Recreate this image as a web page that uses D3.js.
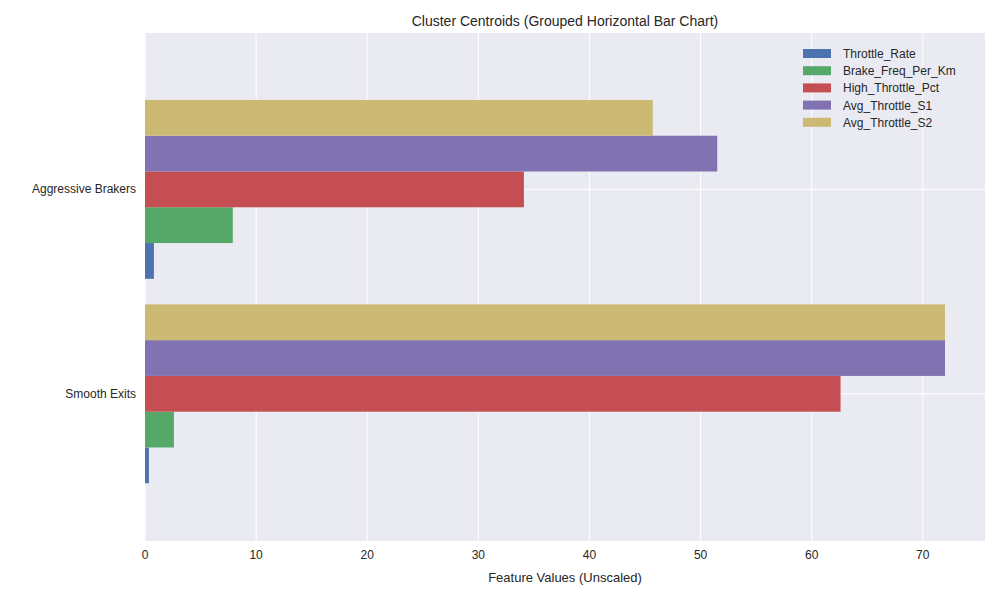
<!DOCTYPE html>
<html><head><meta charset="utf-8">
<script src="https://cdn.jsdelivr.net/npm/d3@7"></script>
<style>body{margin:0;background:#fff;font-family:"Liberation Sans",Arial,sans-serif}</style>
</head><body>
<svg id="chart" width="1000" height="600"></svg>
<script>
// data
var clusters = ['Smooth Exits', 'Aggressive Brakers'];
var features = ['Throttle_Rate', 'Brake_Freq_Per_Km', 'High_Throttle_Pct', 'Avg_Throttle_S1', 'Avg_Throttle_S2'];
var colors = ['#4C72B0', '#55A868', '#C44E52', '#8172B2', '#CCB974'];
var smoothValues = [0.35, 2.6, 62.6, 72.0, 72.0];
var aggressiveValues = [0.8, 7.9, 34.1, 51.5, 45.7];
var xTicks = [0, 10, 20, 30, 40, 50, 60, 70];

var values = [smoothValues, aggressiveValues];

var svg = d3.select('#chart');
var mLeft = 145, mRight = 985, mTop = 33, mBottom = 541;

var x = d3.scaleLinear().domain([0, 75.6]).range([mLeft, mRight]);
var y = d3.scaleLinear().domain([-0.72, 1.765]).range([mBottom, mTop]);
var barW = 0.175; // in category units

svg.append('rect').attr('x', mLeft).attr('y', mTop)
    .attr('width', mRight - mLeft).attr('height', mBottom - mTop).attr('fill', '#EAEAF2');

// grid
svg.selectAll('.vg').data(xTicks).enter().append('line')
    .attr('x1', d => x(d)).attr('x2', d => x(d)).attr('y1', mTop).attr('y2', mBottom)
    .attr('stroke', '#fff').attr('stroke-width', 1);
svg.selectAll('.hg').data([0, 1]).enter().append('line')
    .attr('x1', mLeft).attr('x2', mRight).attr('y1', d => y(d)).attr('y2', d => y(d))
    .attr('stroke', '#fff').attr('stroke-width', 1);

// bars
clusters.forEach(function (c, ci) {
    features.forEach(function (f, fi) {
        var center = ci + (fi - 2) * barW;
        svg.append('rect')
            .attr('x', x(0))
            .attr('y', y(center + barW / 2))
            .attr('width', x(values[ci][fi]) - x(0))
            .attr('height', y(center - barW / 2) - y(center + barW / 2))
            .attr('fill', colors[fi]);
    });
});

// axes labels
svg.selectAll('.xt').data(xTicks).enter().append('text')
    .attr('x', d => x(d)).attr('y', mBottom + 18).attr('text-anchor', 'middle')
    .attr('font-size', 12).attr('fill', '#262626').text(d => d);
svg.selectAll('.yt').data(clusters).enter().append('text')
    .attr('x', mLeft - 9).attr('y', (d, i) => y(i) + 4).attr('text-anchor', 'end')
    .attr('font-size', 12).attr('fill', '#262626').text(d => d);

svg.append('text').attr('x', (mLeft + mRight) / 2).attr('y', 582).attr('text-anchor', 'middle')
    .attr('font-size', 13).attr('fill', '#262626').text('Feature Values (Unscaled)');
svg.append('text').attr('x', (mLeft + mRight) / 2).attr('y', 26).attr('text-anchor', 'middle')
    .attr('font-size', 14).attr('fill', '#262626').text('Cluster Centroids (Grouped Horizontal Bar Chart)');

// legend
var lg = svg.append('g').attr('transform', 'translate(803,53)');
features.forEach(function (f, i) {
    lg.append('rect').attr('x', 0).attr('y', i * 17.2 - 4).attr('width', 28).attr('height', 9).attr('fill', colors[i]);
    lg.append('text').attr('x', 40).attr('y', i * 17.2 + 5).attr('font-size', 12).attr('fill', '#262626').text(f);
});
</script>
</body></html>
